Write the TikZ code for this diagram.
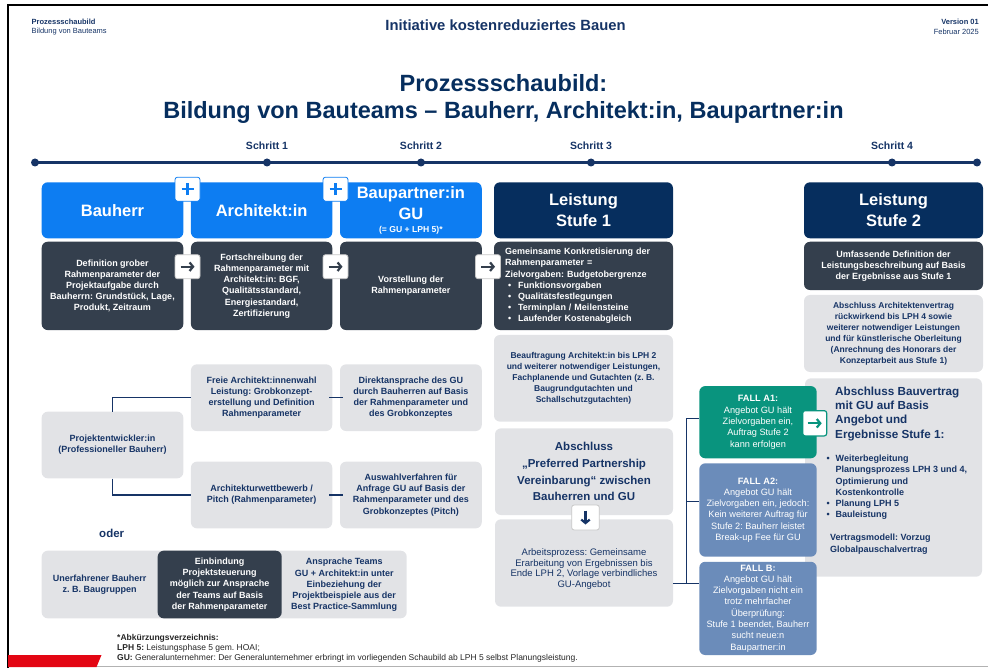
\documentclass[tikz,border=0pt]{standalone}
\usepackage{fontspec}
\setmainfont{Liberation Sans}
\usetikzlibrary{arrows.meta}
\frenchspacing

\definecolor{hellblau}{RGB}{13,125,242}
\definecolor{nachtblau}{RGB}{6,46,94}
\definecolor{schiefer}{RGB}{52,63,77}
\definecolor{hellgrau}{RGB}{226,227,230}
\definecolor{tinte}{RGB}{22,52,102}
\definecolor{petrol}{RGB}{9,148,126}
\definecolor{stahlblau}{RGB}{107,140,186}
\definecolor{signalrot}{RGB}{227,6,19}

\newcommand{\punkt}{\llap{\textbullet\hspace{6pt}}}

\tikzset{
  sz/.style 2 args={minimum width=#1pt, minimum height=#2pt},
  feld/.style={rounded corners=6pt, inner sep=2pt, align=center,
    font=\bfseries\fontsize{9}{11.2}\selectfont},
  kopf/.style={feld, fill=hellblau, text=white,
    font=\bfseries\fontsize{16.5}{21.5}\selectfont},
  stufe/.style={kopf, fill=nachtblau},
  dunkel/.style={feld, fill=schiefer, text=white},
  grau/.style={feld, fill=hellgrau, text=tinte},
  fall/.style={feld, text=white, font=\fontsize{9.2}{11.3}\selectfont},
  knopf/.style={draw=#1, fill=white, line width=0.8pt, rounded corners=2.5pt,
    minimum width=25pt, minimum height=24pt, inner sep=0pt},
  knopf/.default={black!22},
  pfeil/.style={draw=#1, line width=2.2pt,
    -{Straight Barb[length=3.5pt,width=8.5pt]}},
  pfeil/.default=schiefer,
  linie/.style={draw=tinte, line width=1.2pt},
  klein/.style={text=tinte, inner sep=0pt, font=\fontsize{7.5}{9}\selectfont},
}

\begin{document}
\begin{tikzpicture}[x=1pt, y=-1pt]
  \useasboundingbox (0,0) rectangle (988,668);
  % Rahmen und Fussleiste
  \draw[line width=2.5pt] (988,5) -- (8,5) -- (8,668);
  \draw[black!30, line width=1pt] (8,666.5) -- (988,666.5);
  \fill[signalrot] (8,655) -- (101.5,655) -- (96.5,667) -- (8,667) -- cycle;

  % Kopfzeile
  \node[klein, anchor=west, font=\bfseries\fontsize{7.5}{9}\selectfont] (kopfA) at (31.5,21.5) {Prozessschaubild};
  \node[klein, anchor=west] (kopfB) at (31.5,31.5) {Bildung von Bauteams};
  \node[text=tinte, font=\bfseries\fontsize{14.8}{18}\selectfont] (initiative) at (505.5,25) {Initiative kostenreduziertes Bauen};
  \node[klein, anchor=east, font=\bfseries\fontsize{7.5}{9}\selectfont] (version) at (979,22) {Version 01};
  \node[klein, anchor=east] (datum) at (979,32) {Februar 2025};

  \node[align=center, text=nachtblau, font=\bfseries\fontsize{23.5}{26.7}\selectfont] (titel) at (503.5,99) {Prozessschaubild:\\Bildung von Bauteams – Bauherr, Architekt:in, Baupartner:in};

  % Zeitstrahl
  \draw[tinte, line width=2.7pt] (35,162.5) -- (977,162.5);
  \foreach \x in {35,267,421,591,892,977}
    \fill[tinte] (\x,162.5) circle (4pt);
  \foreach \x/\n in {267/1,421/2,591/3,892/4}
    \node[text=tinte, font=\bfseries\fontsize{10.5}{12}\selectfont] (schritt\n) at (\x,145.5) {Schritt \n};

  % Beteiligte
  \node[kopf, sz={141.6}{56}] (hBauherr) at (112.5,210.3) {Bauherr};
  \node[kopf, sz={141.3}{56}] (hArchitekt) at (261.6,210.3) {Architekt:in};
  \node[kopf, sz={141.7}{56}] (hPartner) at (410.9,210.3) {Baupartner:in\\GU\\[-8.5pt]\fontsize{8.6}{9}\selectfont (= GU + LPH 5)*};
  \node[stufe, sz={179}{56}] (hStufeA) at (583.5,210.3) {Leistung\\Stufe 1};
  \node[stufe, sz={179}{56}] (hStufeB) at (893.5,210.3) {Leistung\\Stufe 2};

  \node[dunkel, sz={141.6}{88.3}] (dBauherr) at (112.5,285.9) {Definition grober\\Rahmenparameter der\\Projektaufgabe durch\\Bauherrn: Grundstück, Lage,\\Produkt, Zeitraum};
  \node[dunkel, sz={141.3}{88.3}] (dArchitekt) at (261.6,285.9) {Fortschreibung der\\Rahmenparameter mit\\Architekt:in: BGF,\\Qualitätsstandard,\\Energiestandard,\\Zertifizierung};
  \node[dunkel, sz={141.7}{88.3}] (dPartner) at (410.9,285.9) {Vorstellung der\\Rahmenparameter};
  \node[dunkel, sz={179}{88.3}, align=left, text width=157pt] (dStufeA) at (583.5,285.9) {Gemeinsame Konkretisierung der\\Rahmenparameter =\\Zielvorgaben: Budgetobergrenze\\\hspace*{3pt}\textbullet\hspace{7pt}Funktionsvorgaben\\\hspace*{3pt}\textbullet\hspace{7pt}Qualitätsfestlegungen\\\hspace*{3pt}\textbullet\hspace{7pt}Terminplan / Meilensteine\\\hspace*{3pt}\textbullet\hspace{7pt}Laufender Kostenabgleich};
  \node[dunkel, sz={179}{48.3}] (dStufeB) at (893.5,265.9) {Umfassende Definition der\\Leistungsbeschreibung auf Basis\\der Ergebnisse aus Stufe 1};

  \node[knopf=hellblau] (plusA) at (187.5,189.2) {};
  \node[knopf=hellblau] (plusB) at (335.5,189.2) {};
  \foreach \p in {plusA,plusB} {
    \draw[hellblau, line width=2.6pt] ([xshift=-6pt]\p.center) -- ([xshift=6pt]\p.center);
    \draw[hellblau, line width=2.6pt] ([yshift=-6pt]\p.center) -- ([yshift=6pt]\p.center);
  }
  \node[knopf] (weiterA) at (187.5,266.7) {};
  \node[knopf] (weiterB) at (335.5,266.7) {};
  \node[knopf] (weiterC) at (488,266.7) {};
  \foreach \p in {weiterA,weiterB,weiterC}
    \draw[pfeil] ([xshift=-7pt]\p.center) -- ([xshift=7pt]\p.center);

  % Stufe 1
  \node[grau, sz={179}{86.7}, font=\bfseries\fontsize{8.5}{10.8}\selectfont] (gBeauftragung) at (583.5,378.3) {Beauftragung Architekt:in bis LPH 2\\und weiterer notwendiger Leistungen,\\Fachplanende und Gutachten (z. B.\\Baugrundgutachten und\\Schallschutzgutachten)};
  \node[grau, sz={178}{86.7}, font=\bfseries\fontsize{11.5}{16.6}\selectfont] (gAbschluss) at (584,471.7) {Abschluss\\„Preferred Partnership\\Vereinbarung“ zwischen\\Bauherren und GU};
  \node[grau, sz={178}{87.4}] (gArbeit) at (584,563) {};
  \node[text=tinte, align=center, font=\fontsize{9.5}{10.7}\selectfont] (tArbeit) at (584,569) {Arbeitsprozess: Gemeinsame\\Erarbeitung von Ergebnissen bis\\Ende LPH 2, Vorlage verbindliches\\GU-Angebot};
  \node[knopf, sz={27.6}{25}] (weiterD) at (585.5,517.5) {};
  \draw[pfeil=tinte] ([yshift=7pt]weiterD.center) -- ([yshift=-7pt]weiterD.center);

  % Stufe 2
  \node[grau, sz={179}{77}, font=\bfseries\fontsize{8.5}{11}\selectfont] (gArchitekt) at (893.5,333.5) {Abschluss Architektenvertrag\\rückwirkend bis LPH 4 sowie\\weiterer notwendiger Leistungen\\und für künstlerische Oberleitung\\(Anrechnung des Honorars der\\Konzeptarbeit aus Stufe 1)};
  \node[grau, sz={177}{198.4}] (gBauvertrag) at (893.5,477.5) {};
  \node[anchor=north west, inner sep=0pt, align=left, text=tinte, font=\bfseries\fontsize{11.7}{14.4}\selectfont] (tVertrag) at (835,386.5) {Abschluss Bauvertrag\\mit GU auf Basis\\Angebot und\\Ergebnisse Stufe 1:};
  \node[anchor=north west, inner sep=0pt, align=left, text=tinte, font=\bfseries\fontsize{9}{11.2}\selectfont] (tUmfang) at (835.5,455) {\punkt Weiterbegleitung\\Planungsprozess LPH 3 und 4,\\Optimierung und\\Kostenkontrolle\\\punkt Planung LPH 5\\\punkt Bauleistung};
  \node[anchor=north west, inner sep=0pt, align=left, text=tinte, font=\bfseries\fontsize{9}{11.7}\selectfont] (tModell) at (830,534) {Vertragsmodell: Vorzug\\Globalpauschalvertrag};

  % Faelle
  \node[fall, fill=petrol, sz={117.4}{72.3}] (fA1) at (758,422.2) {\textbf{FALL A1:}\\Angebot GU hält\\Zielvorgaben ein,\\Auftrag Stufe 2\\kann erfolgen};
  \node[fall, fill=stahlblau, sz={117.4}{93.4}] (fA2) at (758,510) {\textbf{FALL A2:}\\Angebot GU hält\\Zielvorgaben ein, jedoch:\\Kein weiterer Auftrag für\\Stufe 2: Bauherr leistet\\Break-up Fee für GU};
  \node[fall, fill=stahlblau, sz={117.4}{93.3}] (fB) at (758,608.4) {\textbf{FALL B:}\\Angebot GU hält\\Zielvorgaben nicht ein\\trotz mehrfacher\\Überprüfung:\\Stufe 1 beendet, Bauherr\\sucht neue:n\\Baupartner:in};
  \node[knopf=petrol, line width=1.2pt, sz={24}{25.3}] (weiterE) at (814.7,423.3) {};
  \draw[pfeil=petrol] ([xshift=-7pt]weiterE.center) -- ([xshift=7pt]weiterE.center);

  \coordinate (jT) at (686.5,418.3);
  \coordinate (jM) at (686.5,501.7);
  \coordinate (jB) at (686.5,583.3);
  \draw[linie] (gArbeit.east |- jB) -- (fB.west |- jB);
  \draw[linie] (jB) -- (jT) -- (fA1.west |- jT);
  \draw[linie] (jM) -- (fA2.west |- jM);

  % Wege zum Bauteam
  \node[grau, sz={141.6}{66.6}] (gEntwickler) at (112.5,445) {Projektentwickler:in\\(Professioneller Bauherr)};
  \node[grau, sz={141.3}{66.7}] (gFreie) at (261.6,397.7) {Freie Architekt:innenwahl\\Leistung: Grobkonzept-\\erstellung und Definition\\Rahmenparameter};
  \node[grau, sz={141.7}{66.7}] (gDirekt) at (410.9,397.7) {Direktansprache des GU\\durch Bauherren auf Basis\\der Rahmenparameter und\\des Grobkonzeptes};
  \node[grau, sz={141.3}{66.7}] (gWettbewerb) at (261.6,495) {Architekturwettbewerb /\\Pitch (Rahmenparameter)};
  \node[grau, sz={141.7}{66.7}] (gAuswahl) at (410.9,495) {Auswahlverfahren für\\Anfrage GU auf Basis der\\Rahmenparameter und des\\Grobkonzeptes (Pitch)};
  \draw[linie] (gEntwickler.north) |- (gFreie.west);
  \draw[linie] (gEntwickler.south) |- (gWettbewerb.west);
  \draw[linie, shorten <=-3pt, shorten >=-3pt] (gFreie.east) -- (gDirekt.west);
  \draw[linie, shorten <=-3pt, shorten >=-3pt] (gWettbewerb.east) -- (gAuswahl.west);

  \node[text=tinte, font=\bfseries\fontsize{11.5}{13}\selectfont] (oder) at (111.7,533.5) {oder};

  \node[grau, sz={365}{67.6}] (gBand) at (224.2,584.5) {};
  \node[text=tinte, align=center, font=\bfseries\fontsize{9}{11.2}\selectfont] (tUnerfahren) at (99.7,585) {Unerfahrener Bauherr\\z. B. Baugruppen};
  \node[dunkel, sz={124}{67.6}] (dSteuerung) at (219.7,584.5) {Einbindung\\Projektsteuerung\\möglich zur Ansprache\\der Teams auf Basis\\der Rahmenparameter};
  \node[text=tinte, align=center, font=\bfseries\fontsize{9}{11.2}\selectfont] (tAnsprache) at (344.2,585) {Ansprache Teams\\GU + Architekt:in unter\\Einbeziehung der\\Projektbeispiele aus der\\Best Practice-Sammlung};

  % Abkuerzungen
  \node[anchor=west, inner sep=0pt, text=black!85, font=\bfseries\fontsize{8.5}{9.7}\selectfont] (abk) at (117,638.5) {*Abkürzungsverzeichnis:};
  \node[anchor=west, inner sep=0pt, text=black!85, font=\fontsize{8.5}{9.7}\selectfont] (abkLPH) at (117,648.3) {\textbf{LPH 5:} Leistungsphase 5 gem. HOAI;};
  \node[anchor=west, inner sep=0pt, text=black!85, font=\fontsize{8.5}{9.7}\selectfont] (abkGU) at (117,658) {\textbf{GU:} Generalunternehmer: Der Generalunternehmer erbringt im vorliegenden Schaubild ab LPH 5 selbst Planungsleistung.};
\end{tikzpicture}
\end{document}
